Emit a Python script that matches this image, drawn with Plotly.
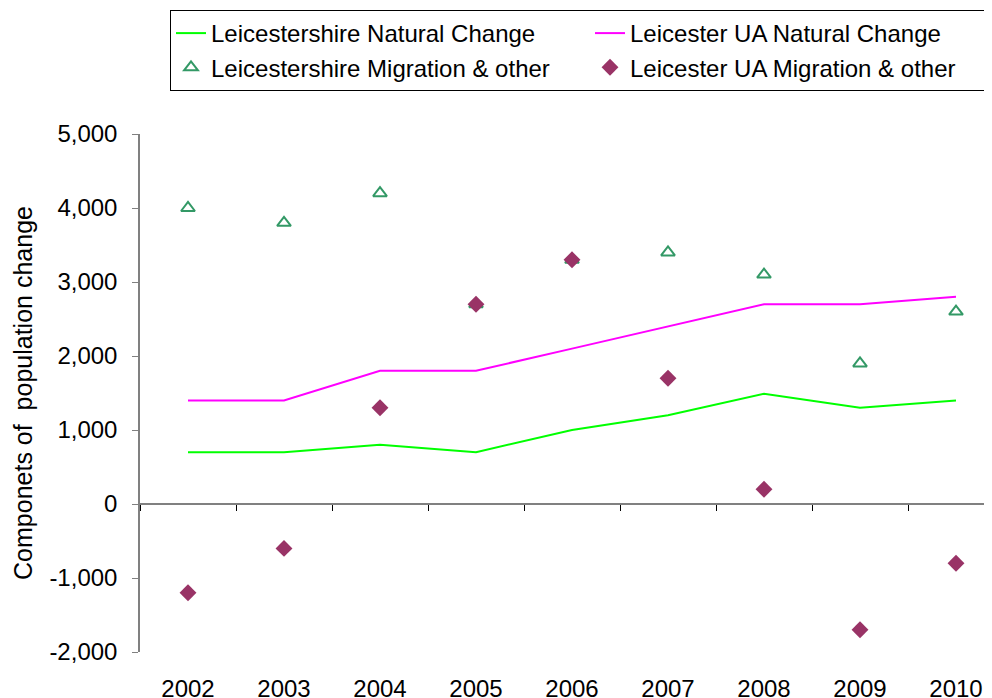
import plotly.graph_objects as go

years = ["2002", "2003", "2004", "2005", "2006", "2007", "2008", "2009", "2010"]
shire_natural = [700, 700, 800, 700, 1000, 1200, 1490, 1300, 1400]
ua_natural = [1400, 1400, 1800, 1800, 2100, 2400, 2700, 2700, 2800]
shire_migration = [4000, 3800, 4200, 2700, 3300, 3400, 3100, 1900, 2600]
ua_migration = [-1200, -600, 1300, 2700, 3300, 1700, 200, -1700, -800]
y_ticks = [-2000, -1000, 0, 1000, 2000, 3000, 4000, 5000]
y_ticktext = ["-2,000", "-1,000", "0", "1,000", "2,000", "3,000", "4,000", "5,000"]

xi = list(range(len(years)))
FONT = "Liberation Sans, Arial, sans-serif"

# the page body has an 8px margin, so the figure is sized/offset to compensate
W, H = 984, 690

fig = go.Figure()
fig.add_trace(go.Scatter(x=xi, y=shire_natural, mode="lines", name="Leicestershire Natural Change",
                         line=dict(color="#00ff00", width=2)))
fig.add_trace(go.Scatter(x=xi, y=ua_natural, mode="lines", name="Leicester UA Natural Change",
                         line=dict(color="#ff00ff", width=2)))
fig.add_trace(go.Scatter(x=xi, y=shire_migration, mode="markers", name="Leicestershire Migration & other",
                         marker=dict(symbol="triangle-up-open", color="#339966", size=12,
                                     line=dict(width=2, color="#339966"))))
fig.add_trace(go.Scatter(x=xi, y=ua_migration, mode="markers", name="Leicester UA Migration & other",
                         marker=dict(symbol="diamond", color="#993366", size=13)))
# helper trace for the category axis drawn at y = 0
fig.add_trace(go.Scatter(x=xi, y=[None] * len(xi), xaxis="x2", showlegend=False, hoverinfo="skip"))

xrange = [-0.5, 8.375]
fig.update_layout(
    width=W, height=H,
    margin=dict(l=132, r=0, t=126, b=46),
    paper_bgcolor="white", plot_bgcolor="white",
    font=dict(family=FONT, size=24, color="black"),
    showlegend=True,
    legend=dict(
        orientation="h", xref="container", yref="container",
        x=162 / W, y=1 - 2 / H, xanchor="left", yanchor="top",
        entrywidth=374, entrywidthmode="pixels",
        bordercolor="black", borderwidth=1, bgcolor="white",
        font=dict(family=FONT, size=24, color="black"),
    ),
    xaxis=dict(
        range=xrange, tickvals=xi, ticktext=years, showline=False, showgrid=False,
        zeroline=False, ticks="", ticklabelstandoff=20, automargin=False,
        tickfont=dict(family=FONT, size=24, color="black"),
    ),
    xaxis2=dict(
        overlaying="x", anchor="free", position=2 / 7, range=xrange,
        tickvals=[i - 0.5 for i in range(len(years) + 1)], showticklabels=False,
        showline=True, linecolor="#808080", linewidth=1.5,
        ticks="outside", ticklen=6, tickcolor="black", tickwidth=1,
        showgrid=False, zeroline=False,
    ),
    yaxis=dict(
        range=[-2000, 5000], tickvals=y_ticks, ticktext=y_ticktext,
        showline=True, linecolor="#808080", linewidth=1.5,
        ticks="outside", ticklen=6, tickcolor="#808080", tickwidth=1,
        showgrid=False, zeroline=False, ticklabelstandoff=10, automargin=False,
        tickfont=dict(family=FONT, size=24, color="black"),
        title=dict(text="Componets of  population change", standoff=10,
                   font=dict(family=FONT, size=25, color="black")),
    ),
)

fig.write_html("out.html")
